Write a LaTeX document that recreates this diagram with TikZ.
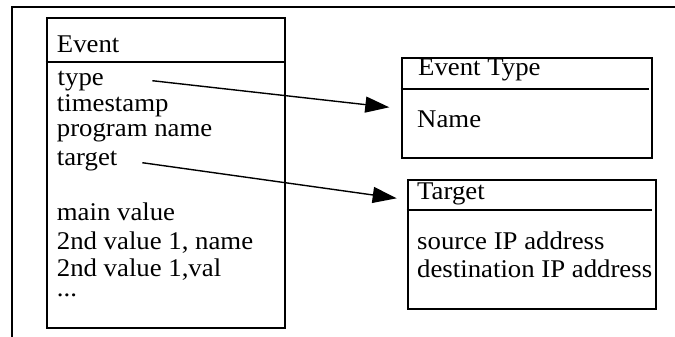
\documentclass[tikz,border=0pt]{standalone}
\usepackage{fontspec}
\setmainfont[FakeStretch=1.05]{Liberation Serif}
\usetikzlibrary{arrows.meta}
\begin{document}
\begin{tikzpicture}[x=1pt,y=-1pt,
  boxline/.style={line width=2pt},
  txt/.style={anchor=base west,inner sep=0pt,font=\fontsize{25.5}{26}\selectfont},
  arr/.style={line width=1.4pt,-{Triangle[length=24pt,width=16pt]}}]
\useasboundingbox (0,0) rectangle (675,337);
% outer frame
\coordinate (fbl) at (11.5,337);
\coordinate (ftl) at (11.5,7);
\coordinate (ftr) at (675,7);
\draw[line width=2pt] (fbl) -- (ftl) -- (ftr);
% Event box
\node[boxline,draw,rectangle,minimum width=238pt,minimum height=310pt,anchor=north west,inner sep=0pt] (ev) at (45.5,17) {};
\coordinate (evdl) at (45.5,62.3);
\coordinate (evdr) at (286,62.3);
\draw[boxline] (evdl) -- (evdr);
\node[txt] (evt) at (56.7,52.3) {Event};
\node[txt] (ty) at (57.5,85) {type};
\node[txt] (ts) at (56.7,111.7) {timestamp};
\node[txt] (pn) at (56.7,136.7) {program name};
\node[txt] (tg) at (56.7,165) {target};
\node[txt] (mv) at (56.7,220) {main value};
\node[txt] (v1) at (56.7,249.5) {2nd value 1, name};
\node[txt] (v2) at (56.7,276.7) {2nd value 1,val};
\node[txt] (dots) at (56.7,296) {...};
% Event Type box
\node[boxline,draw,rectangle,minimum width=250pt,minimum height=100pt,anchor=north west,inner sep=0pt] (et) at (400.7,56.7) {};
\coordinate (etdl) at (400.7,89);
\coordinate (etdr) at (649,89);
\draw[boxline] (etdl) -- (etdr);
\node[txt] (ett) at (418,76) {Event Type};
\node[txt] (etn) at (417,128) {Name};
% Target box
\node[boxline,draw,rectangle,minimum width=248pt,minimum height=129pt,anchor=north west,inner sep=0pt] (tb) at (406.7,179.3) {};
\coordinate (tbdl) at (406.7,210.3);
\coordinate (tbdr) at (652,210.3);
\draw[boxline] (tbdl) -- (tbdr);
\node[txt] (tbt) at (417,199) {Target};
\node[txt] (src) at (417,249) {source IP address};
\node[txt] (dst) at (417,277) {destination IP address};
% arrows
\coordinate (a1s) at (152.3,80.7);
\coordinate (a1e) at (389.3,107.3);
\coordinate (a2s) at (142.3,162.7);
\coordinate (a2e) at (396.7,198.3);
\draw[arr] (a1s) -- (a1e);
\draw[arr] (a2s) -- (a2e);
\end{tikzpicture}
\end{document}
